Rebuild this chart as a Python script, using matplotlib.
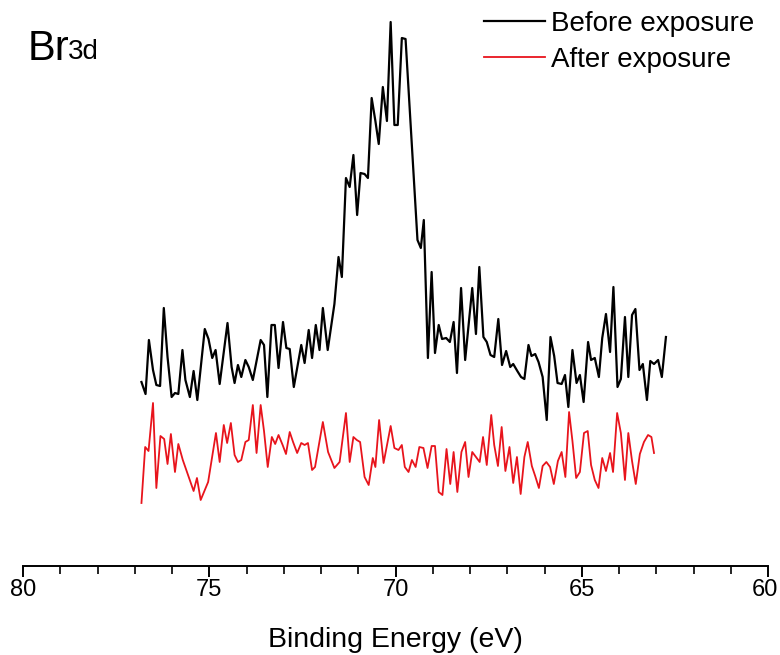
import matplotlib
matplotlib.use("Agg")
import matplotlib.pyplot as plt
from matplotlib.transforms import ScaledTranslation

# binding energy (eV) and intensity (a.u.)
before_energy = [
    76.82, 76.71, 76.62, 76.51, 76.42, 76.32, 76.22, 76.12, 76.01, 75.92,
    75.83, 75.72, 75.64, 75.52, 75.42, 75.32, 75.12, 75.02, 74.92, 74.83,
    74.72, 74.51, 74.40, 74.32, 74.23, 74.14, 74.03, 73.94, 73.83, 73.62,
    73.53, 73.44, 73.33, 73.24, 73.14, 73.02, 72.93, 72.84, 72.73, 72.53,
    72.44, 72.33, 72.24, 72.14, 72.04, 71.95, 71.82, 71.64, 71.53, 71.44,
    71.33, 71.23, 71.13, 71.03, 70.94, 70.83, 70.74, 70.64, 70.54, 70.45,
    70.34, 70.23, 70.13, 70.03, 69.94, 69.83, 69.73, 69.41, 69.32, 69.24,
    69.13, 69.03, 68.94, 68.84, 68.75, 68.64, 68.54, 68.44, 68.35, 68.24,
    68.13, 67.94, 67.84, 67.75, 67.64, 67.55, 67.45, 67.35, 67.24, 67.14,
    67.03, 66.92, 66.84, 66.73, 66.63, 66.54, 66.43, 66.35, 66.25, 66.16,
    66.05, 65.94, 65.84, 65.74, 65.65, 65.54, 65.45, 65.36, 65.25, 65.14,
    65.05, 64.95, 64.83, 64.75, 64.65, 64.54, 64.45, 64.35, 64.24, 64.15,
    64.04, 63.95, 63.84, 63.75, 63.65, 63.56, 63.45, 63.36, 63.25, 63.16,
    63.06, 62.95, 62.85, 62.74,
]
before_counts = [
    184, 172, 226, 196, 181, 180, 258, 209, 169, 173,
    172, 216, 186, 169, 195, 166, 237, 227, 208, 216,
    182, 243, 199, 183, 201, 189, 206, 199, 186, 226,
    221, 169, 241, 241, 198, 244, 218, 217, 179, 221,
    203, 236, 208, 241, 216, 258, 216, 262, 309, 289,
    388, 379, 411, 351, 393, 392, 388, 468, 445, 422,
    479, 445, 544, 441, 441, 528, 527, 326, 318, 346,
    208, 294, 213, 241, 227, 228, 224, 244, 193, 278,
    206, 278, 232, 299, 229, 224, 211, 209, 247, 201,
    215, 199, 202, 195, 189, 187, 221, 210, 212, 204,
    189, 146, 229, 210, 183, 182, 191, 159, 216, 183,
    191, 164, 224, 206, 208, 189, 228, 252, 214, 279,
    179, 187, 249, 189, 251, 257, 196, 202, 166, 205,
    202, 206, 189, 229,
]

after_energy = [
    76.82, 76.72, 76.63, 76.51, 76.42, 76.31, 76.21, 76.12, 76.03, 75.92,
    75.83, 75.71, 75.42, 75.33, 75.23, 75.03, 74.82, 74.72, 74.61, 74.52,
    74.42, 74.32, 74.23, 74.14, 74.03, 73.94, 73.83, 73.73, 73.62, 73.53,
    73.43, 73.32, 73.23, 73.14, 73.03, 72.94, 72.84, 72.75, 72.64, 72.53,
    72.44, 72.35, 72.24, 72.16, 71.95, 71.81, 71.64, 71.50, 71.33, 71.23,
    71.13, 71.04, 70.95, 70.83, 70.72, 70.61, 70.54, 70.44, 70.32, 70.13,
    70.03, 69.92, 69.83, 69.75, 69.65, 69.56, 69.46, 69.36, 69.25, 69.14,
    69.03, 68.94, 68.84, 68.74, 68.63, 68.53, 68.44, 68.34, 68.23, 68.13,
    68.04, 67.94, 67.84, 67.74, 67.65, 67.55, 67.43, 67.35, 67.25, 67.15,
    67.05, 66.94, 66.84, 66.74, 66.64, 66.54, 66.45, 66.34, 66.25, 66.15,
    66.05, 65.95, 65.85, 65.75, 65.64, 65.54, 65.44, 65.34, 65.25, 65.15,
    65.05, 64.94, 64.84, 64.75, 64.65, 64.55, 64.45, 64.35, 64.24, 64.16,
    64.05, 63.95, 63.84, 63.75, 63.65, 63.55, 63.44, 63.33, 63.22, 63.13,
    63.06,
]
after_counts = [
    63, 119, 115, 163, 78, 130, 127, 102, 132, 94,
    122, 106, 75, 88, 66, 84, 133, 104, 141, 123,
    143, 111, 104, 106, 124, 126, 161, 113, 161, 135,
    99, 129, 122, 131, 121, 112, 134, 124, 113, 123,
    121, 123, 96, 99, 144, 114, 98, 104, 153, 104,
    129, 126, 124, 89, 81, 108, 99, 146, 103, 140,
    118, 116, 121, 99, 94, 106, 99, 119, 118, 98,
    120, 120, 74, 71, 117, 82, 114, 74, 114, 124,
    89, 114, 109, 104, 129, 101, 151, 121, 100, 139,
    95, 119, 83, 109, 72, 109, 124, 100, 90, 78,
    100, 104, 99, 82, 105, 114, 89, 154, 125, 88,
    94, 133, 135, 101, 86, 78, 108, 95, 113, 94,
    153, 133, 86, 133, 105, 82, 112, 124, 131, 129,
    113,
]

x_ticks = [80, 75, 70, 65, 60]
legend_labels = ["Before exposure", "After exposure"]

plt.rcParams['font.family'] = ['Liberation Sans', 'DejaVu Sans']

fig = plt.figure(figsize=(7.8, 6.55), dpi=100)
ax = fig.add_axes([23 / 780, 89 / 655, 745 / 780, 566 / 655])

ax.plot(before_energy, before_counts, color='black', lw=1.6, label=legend_labels[0])
ax.plot(after_energy, after_counts, color='#e8141c', lw=1.3, label=legend_labels[1])

ax.set_xlim(80, 60)
ax.set_ylim(0, 566)
ax.set_xticks(x_ticks)
ax.set_xticks(range(60, 81), minor=True)
ax.set_yticks([])
for side in ['left', 'right', 'top']:
    ax.spines[side].set_visible(False)
ax.spines['bottom'].set_linewidth(1.4)
ax.tick_params(axis='x', which='major', length=8, width=1.4, labelsize=17, pad=1)
ax.tick_params(axis='x', which='minor', length=6, width=1.2)
ax.set_xlabel("Binding Energy (eV)", fontsize=20.5, labelpad=19)

# keep the "60" label inside the canvas
last = ax.get_xticklabels()[-1]
last.set_transform(last.get_transform() + ScaledTranslation(-3 / 100, 0, fig.dpi_scale_trans))

ax.legend(loc='upper right', bbox_to_anchor=(0.996, 1.0), frameon=False, fontsize=20,
          handlelength=2.2, handletextpad=0.2, labelspacing=0.36, borderaxespad=0)

fig.text(28 / 780, 1 - 60 / 655, "Br", fontsize=30, va='baseline', ha='left')
fig.text(68 / 780, 1 - 59 / 655, "3d", fontsize=20, va='baseline', ha='left')

fig.savefig("out.png", dpi=100)
